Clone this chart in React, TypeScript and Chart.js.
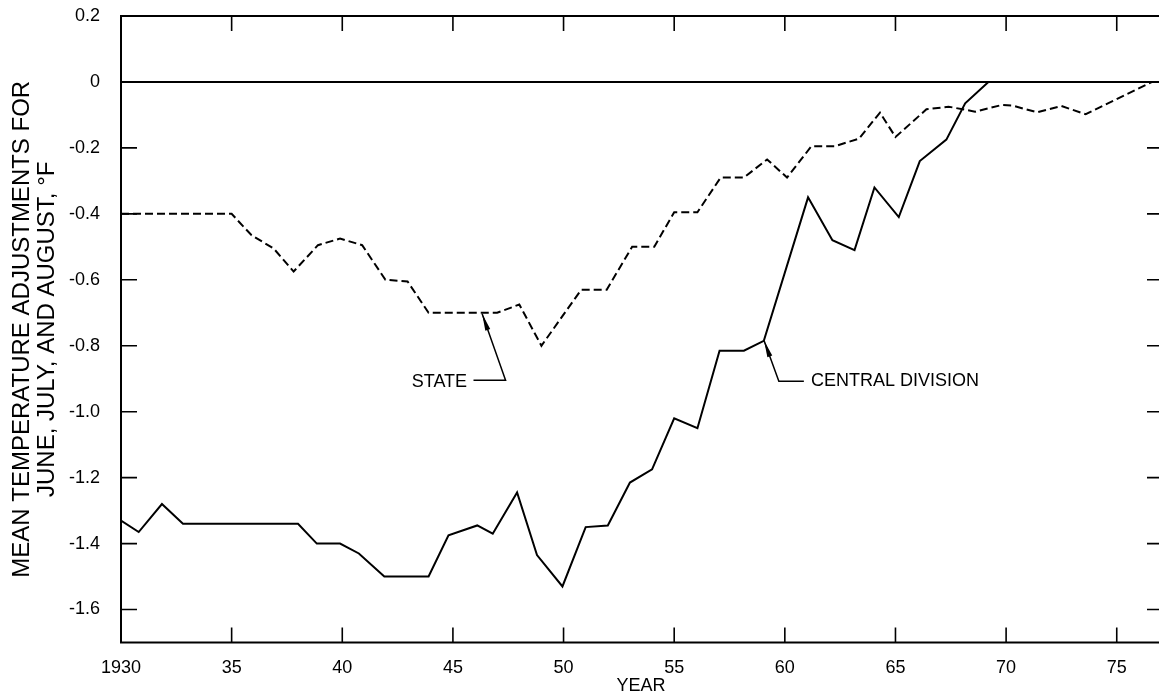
import React, { useEffect, useRef } from 'react';
import { Chart, registerables } from 'chart.js';

Chart.register(...registerables);

// ---- Data ----
const centralYears = [1930, 1930.8, 1931.85, 1932.8, 1938, 1938.85, 1939.9, 1940.75, 1941.9, 1943.9, 1944.8, 1946.1, 1946.8, 1947.9, 1948.8, 1949.95, 1951, 1952, 1953, 1954, 1955, 1956.05, 1957.05, 1958.15, 1959.05, 1961.05, 1962.15, 1963.15, 1964.05, 1965.15, 1966.1, 1967.3, 1968.15, 1969.2, 1977];
const centralValues = [-1.33, -1.365, -1.28, -1.34, -1.34, -1.40, -1.40, -1.43, -1.50, -1.50, -1.375, -1.345, -1.37, -1.245, -1.435, -1.53, -1.35, -1.345, -1.215, -1.175, -1.02, -1.05, -0.815, -0.815, -0.785, -0.35, -0.48, -0.51, -0.32, -0.41, -0.24, -0.175, -0.065, 0, 0];

const stateYears = [1930, 1935, 1935.9, 1936.9, 1937.8, 1938.9, 1939.9, 1940.9, 1941.95, 1942.95, 1943.9, 1947, 1948, 1949, 1950.8, 1951.95, 1953.1, 1954.1, 1955, 1956.05, 1957.1, 1958.15, 1959.2, 1960.1, 1961.2, 1962.25, 1963.35, 1964.3, 1965, 1966.4, 1967.4, 1968.6, 1969.8, 1970.3, 1971.4, 1972.5, 1973.6, 1976.6];
const stateValues = [-0.40, -0.40, -0.465, -0.505, -0.575, -0.495, -0.475, -0.495, -0.60, -0.605, -0.70, -0.70, -0.675, -0.80, -0.63, -0.63, -0.50, -0.50, -0.395, -0.395, -0.29, -0.29, -0.235, -0.29, -0.195, -0.195, -0.172, -0.093, -0.167, -0.083, -0.075, -0.09, -0.07, -0.072, -0.092, -0.073, -0.098, 0];

const xTicks = [1930, 1935, 1940, 1945, 1950, 1955, 1960, 1965, 1970, 1975];
const xTickLabels = ['1930', '35', '40', '45', '50', '55', '60', '65', '70', '75'];
const yTicks = [0.2, 0, -0.2, -0.4, -0.6, -0.8, -1.0, -1.2, -1.4, -1.6];
const yTickLabels = ['0.2', '0', '-0.2', '-0.4', '-0.6', '-0.8', '-1.0', '-1.2', '-1.4', '-1.6'];

const xTitle = 'YEAR';
const yTitle = ['MEAN TEMPERATURE ADJUSTMENTS FOR', 'JUNE, JULY, AND AUGUST, \u00B0F'];

// label callouts (in data units)
const callouts = [
  { text: 'STATE', align: 'right', textX: 1945.64, textY: -0.91, startX: 1945.93, elbowX: 1947.38, lineY: -0.905, tipX: 1946.32, tipY: -0.703 },
  { text: 'CENTRAL DIVISION', align: 'left', textX: 1961.18, textY: -0.908, startX: 1960.86, elbowX: 1959.73, lineY: -0.908, tipX: 1959.06, tipY: -0.784 },
];

const FONT = "'Liberation Sans', Arial, Helvetica, sans-serif";
const W = 1175;
const H = 697;

const framePlugin = {
  id: 'frame',
  afterDatasetsDraw(chart: any) {
    const { ctx, chartArea: a } = chart;
    const xs = chart.scales.x;
    const ys = chart.scales.y;
    ctx.save();
    ctx.strokeStyle = '#000';
    ctx.fillStyle = '#000';
    ctx.lineCap = 'butt';
    // frame
    ctx.lineWidth = 2;
    ctx.strokeRect(a.left, a.top, a.right - a.left, a.bottom - a.top);
    // zero line
    const y0 = ys.getPixelForValue(0);
    ctx.beginPath();
    ctx.moveTo(a.left, y0);
    ctx.lineTo(a.right, y0);
    ctx.stroke();
    // inward ticks
    ctx.lineWidth = 1.6;
    ctx.beginPath();
    for (const v of yTicks) {
      const py = ys.getPixelForValue(v);
      ctx.moveTo(a.left, py);
      ctx.lineTo(a.left + 16, py);
      ctx.moveTo(a.right - 14, py);
      ctx.lineTo(a.right, py);
    }
    for (const v of xTicks) {
      const px = xs.getPixelForValue(v);
      ctx.moveTo(px, a.top);
      ctx.lineTo(px, a.top + 15);
      ctx.moveTo(px, a.bottom);
      ctx.lineTo(px, a.bottom - 15);
    }
    ctx.stroke();
    // callouts
    ctx.font = `18px ${FONT}`;
    ctx.textBaseline = 'middle';
    for (const c of callouts) {
      ctx.textAlign = c.align as CanvasTextAlign;
      ctx.fillText(c.text, xs.getPixelForValue(c.textX), ys.getPixelForValue(c.textY));
      const sx = xs.getPixelForValue(c.startX);
      const ex = xs.getPixelForValue(c.elbowX);
      const ly = ys.getPixelForValue(c.lineY);
      const tx = xs.getPixelForValue(c.tipX);
      const ty = ys.getPixelForValue(c.tipY);
      ctx.lineWidth = 1.5;
      ctx.beginPath();
      ctx.moveTo(sx, ly);
      ctx.lineTo(ex, ly);
      ctx.lineTo(tx, ty);
      ctx.stroke();
      const dx = tx - ex;
      const dy = ty - ly;
      const len = Math.hypot(dx, dy);
      const ux = dx / len;
      const uy = dy / len;
      const bx = tx - ux * 17;
      const by = ty - uy * 17;
      ctx.beginPath();
      ctx.moveTo(tx, ty);
      ctx.lineTo(bx - uy * 2.6, by + ux * 2.6);
      ctx.lineTo(bx + uy * 2.6, by - ux * 2.6);
      ctx.closePath();
      ctx.fill();
    }
    ctx.restore();
  },
};

export default function App() {
  const ref = useRef<HTMLCanvasElement | null>(null);
  useEffect(() => {
    if (!ref.current) return;
    Chart.defaults.font.family = FONT;
    Chart.defaults.color = '#000';
    const chart = new Chart(ref.current, {
      type: 'scatter',
      data: {
        datasets: [
          {
            label: 'Central division',
            data: centralYears.map((x, i) => ({ x, y: centralValues[i] })),
            showLine: true,
            borderColor: '#000',
            borderWidth: 2,
            pointRadius: 0,
            tension: 0,
          },
          {
            label: 'State',
            data: stateYears.map((x, i) => ({ x, y: stateValues[i] })),
            showLine: true,
            borderColor: '#000',
            borderWidth: 2,
            borderDash: [8, 4],
            pointRadius: 0,
            tension: 0,
          },
        ],
      },
      options: {
        responsive: false,
        animation: false,
        devicePixelRatio: 1,
        layout: { padding: { top: 16, right: W - 1161, left: 0, bottom: 0 } },
        plugins: {
          legend: { display: false },
          tooltip: { enabled: false },
        },
        scales: {
          x: {
            type: 'linear',
            position: 'bottom',
            min: 1930,
            max: 1977,
            grid: { display: false },
            border: { display: false },
            afterBuildTicks: (s: any) => {
              s.ticks = xTicks.map((v) => ({ value: v }));
            },
            afterFit: (s: any) => {
              s.height = 54.5;
              s.paddingLeft = 0;
              s.paddingRight = 0;
            },
            ticks: {
              autoSkip: false,
              maxRotation: 0,
              padding: 7,
              font: { size: 18 },
              color: '#000',
              callback: (v: any) => {
                const i = xTicks.indexOf(Number(v));
                return i >= 0 ? xTickLabels[i] : '';
              },
            },
            title: {
              display: true,
              text: xTitle,
              font: { size: 18 },
              color: '#000',
              padding: { top: 0, bottom: 0 },
            },
          },
          y: {
            type: 'linear',
            position: 'left',
            min: -1.7,
            max: 0.2,
            grid: { display: false },
            border: { display: false },
            afterBuildTicks: (s: any) => {
              s.ticks = yTicks.map((v) => ({ value: v }));
            },
            afterFit: (s: any) => {
              s.width = 121;
              s.paddingTop = 0;
              s.paddingBottom = 0;
            },
            ticks: {
              autoSkip: false,
              padding: 13,
              font: { size: 18 },
              color: '#000',
              callback: (v: any) => {
                const i = yTicks.findIndex((t) => Math.abs(t - Number(v)) < 1e-6);
                return i >= 0 ? yTickLabels[i] : '';
              },
            },
            title: {
              display: true,
              text: yTitle,
              font: { size: 24, lineHeight: 1.05 },
              color: '#000',
              padding: { top: 10, bottom: 0 },
            },
          },
        },
      },
      plugins: [framePlugin],
    } as any);
    return () => chart.destroy();
  }, []);

  return (
    <div style={{ position: 'fixed', left: 0, top: 0, width: W, height: H, overflow: 'hidden', background: '#fff' }}>
      <canvas ref={ref} width={W} height={H} style={{ display: 'block' }} />
    </div>
  );
}
